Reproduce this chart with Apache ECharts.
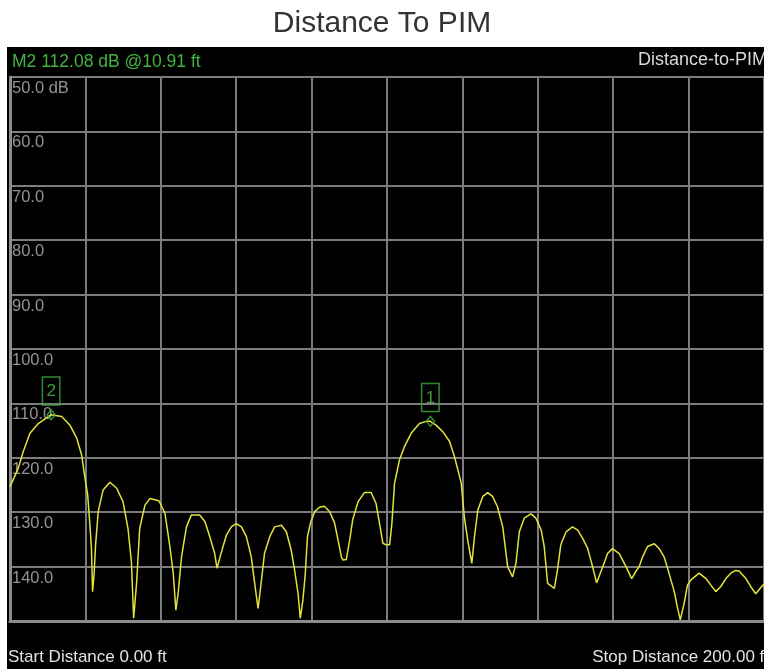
<!DOCTYPE html>
<html>
<head>
<meta charset="utf-8">
<title>Distance To PIM</title>
<script src="https://cdn.jsdelivr.net/npm/echarts@6/dist/echarts.min.js"></script>
<style>
  html, body { margin: 0; padding: 0; background: #ffffff; }
  #chart { width: 764px; height: 669px; }
</style>
</head>
<body>
<div id="chart"></div>
<script>
// Distance-to-PIM sweep: distance (ft) and PIM level (dB)
const distanceFt = [
  0, 2.2, 3.5, 5.3, 7.5, 10.91, 13.7, 15.9, 17.7, 19.0, 19.9, 20.6, 21.2, 21.6, 21.9, 22.3, 22.7, 23.4, 24.7, 26.5,
  28.3, 30.0, 31.3, 32.2, 32.8, 33.6, 34.4, 35.8, 37.1, 39.5, 41.1, 42.4, 43.3, 44.0, 44.6, 45.5, 46.8, 48.1, 50.3, 51.7,
  53.0, 54.3, 54.9, 56.1, 57.4, 58.7, 60.0, 61.4, 62.7, 64.0, 64.9, 65.8, 66.5, 67.5, 68.9, 70.2, 72.0, 73.3, 74.6, 75.5,
  76.4, 77.0, 77.7, 78.3, 78.9, 79.7, 80.8, 82.1, 83.4, 84.8, 86.1, 87.0, 87.9, 88.3, 89.2, 90.1, 90.9, 92.3, 94.0, 95.8,
  97.1, 98.0, 98.9, 99.8, 100.7, 101.3, 102.0, 103.3, 104.6, 106.4, 108.6, 110.4, 111.5, 113.0, 114.8, 116.6, 117.9, 118.9, 119.7, 120.5,
  121.4, 122.5, 123.2, 124.1, 125.4, 126.7, 128.0, 129.3, 130.7, 132.0, 133.3, 134.2, 135.1, 136.4, 138.2, 139.5, 140.9, 141.7, 142.6, 144.4,
  145.2, 146.1, 147.5, 149.2, 150.6, 151.9, 153.2, 154.3, 155.6, 157.4, 158.5, 159.8, 161.6, 163.4, 164.9, 166.0, 166.9, 167.8, 169.1, 170.9,
  172.2, 173.5, 174.8, 176.2, 177.0, 177.8, 178.8, 179.7, 180.7, 182.8, 184.6, 185.9, 187.2, 188.5, 189.9, 191.2, 192.5, 193.4, 195.2, 196.5,
  197.8, 199.1, 200
];
const levelDb = [
  125.3, 121.9, 118.9, 115.5, 113.7, 112.08, 112.4, 114.0, 116.4, 119.5, 123.8, 126.8, 132.4, 136.6, 144.6, 141.5, 136.0, 129.9, 125.9, 124.5,
  125.6, 128.1, 133.0, 139.1, 149.5, 142.8, 133.0, 128.7, 127.5, 127.9, 130.2, 136.3, 141.2, 148.0, 144.9, 138.2, 132.7, 130.5, 130.5, 131.7,
  134.5, 137.6, 140.3, 137.3, 134.2, 132.7, 132.1, 132.7, 134.5, 138.2, 143.1, 147.7, 143.7, 137.6, 134.5, 132.7, 132.4, 133.6, 137.0, 140.7,
  144.9, 149.5, 146.1, 141.5, 134.5, 132.0, 129.9, 129.1, 128.9, 129.9, 132.0, 135.1, 138.2, 138.8, 138.7, 135.1, 131.4, 128.1, 126.4, 126.4,
  128.4, 132.0, 135.7, 136.0, 136.0, 132.0, 124.7, 120.4, 118.0, 115.5, 113.7, 113.3, 113.3, 114.0, 115.2, 117.0, 119.8, 122.5, 124.7, 130.8,
  135.1, 139.4, 134.5, 129.6, 127.1, 126.4, 127.1, 129.0, 132.7, 140.0, 141.9, 139.4, 133.6, 131.1, 130.3, 131.1, 133.3, 136.3, 143.1, 144.0,
  140.7, 136.0, 133.6, 132.7, 133.3, 134.8, 136.6, 139.4, 143.0, 139.7, 137.6, 136.7, 137.6, 140.0, 142.2, 140.9, 140.0, 138.2, 136.3, 135.8,
  136.7, 138.2, 141.2, 144.6, 147.4, 149.8, 146.8, 143.4, 142.4, 141.2, 142.2, 143.4, 144.6, 143.7, 142.2, 141.2, 140.7, 140.8, 142.2, 143.7,
  145.0, 143.9, 143.2
];

// Markers
const markerNames = ['2', '1'];
const markerFt = [10.91, 111.5];
const markerDb = [112.08, 113.3];

// Vertical scale tick labels (top to bottom)
const yTickLabels = ['50.0 dB', '60.0', '70.0', '80.0', '90.0', '100.0', '110.0', '120.0', '130.0', '140.0', ''];

const titleText = 'Distance To PIM';
const modeText = 'Distance-to-PIM';
const startText = 'Start Distance 0.00 ft';
const stopText = 'Stop Distance 200.00 ft';

const activeMarker = 0;
const headerText = 'M' + markerNames[activeMarker] + ' ' + markerDb[activeMarker].toFixed(2) +
  ' dB @' + markerFt[activeMarker].toFixed(2) + ' ft';

const traceData = distanceFt.map((d, i) => [d, levelDb[i]]);
const markerData = markerFt.map((d, i) => ({ name: markerNames[i], value: [d, markerDb[i]] }));

const GRID_COLOR = '#7c7c7c';
const MARK_GREEN = '#3fae3f';
const uiFont = '"Liberation Sans", Arial, sans-serif';

const chart = echarts.init(document.getElementById('chart'), null, { renderer: 'canvas' });

chart.setOption({
  backgroundColor: '#ffffff',
  animation: false,
  title: {
    text: titleText,
    left: 'center',
    top: 4,
    textStyle: { fontFamily: uiFont, fontSize: 30, fontWeight: 'normal', color: '#333333' }
  },
  graphic: [
    { type: 'rect', z: -100, shape: { x: 7, y: 47, width: 770, height: 630 }, style: { fill: '#000000' } },
    { type: 'text', z: 50, x: 12, y: 62,
      style: { text: headerText, fill: '#44b244', font: '17.5px ' + uiFont, textVerticalAlign: 'middle' } },
    { type: 'text', z: 50, x: 767, y: 60,
      style: { text: modeText, fill: '#d9d9d9', font: '18px ' + uiFont, textAlign: 'right', textVerticalAlign: 'middle' } },
    { type: 'text', z: 50, x: 8, y: 657,
      style: { text: startText, fill: '#e2e2e2', font: '17px ' + uiFont, textVerticalAlign: 'middle' } },
    { type: 'text', z: 50, x: 769, y: 657,
      style: { text: stopText, fill: '#e2e2e2', font: '17px ' + uiFont, textAlign: 'right', textVerticalAlign: 'middle' } }
  ],
  grid: { left: 10, top: 77, width: 755, height: 544, containLabel: false },
  xAxis: {
    type: 'value',
    min: 0, max: 200, interval: 20,
    axisLine: { show: true, onZero: false, lineStyle: { color: '#8c8c8c', width: 3 } },
    axisTick: { show: false },
    axisLabel: { show: false },
    splitLine: { show: true, lineStyle: { color: GRID_COLOR, width: 2 } }
  },
  yAxis: {
    type: 'value',
    inverse: true,
    min: 50, max: 150, interval: 10,
    axisLine: { show: true, lineStyle: { color: '#8c8c8c', width: 3 } },
    axisTick: { show: false },
    axisLabel: {
      show: true, inside: true, margin: 2,
      verticalAlign: 'top', padding: [3, 0, 0, 0],
      color: '#939393', fontFamily: uiFont, fontSize: 16.5,
      formatter: (v) => yTickLabels[Math.round((v - 50) / 10)]
    },
    splitLine: { show: true, lineStyle: { color: GRID_COLOR, width: 2 } }
  },
  series: [
    {
      type: 'line',
      name: 'trace',
      data: traceData,
      showSymbol: false,
      symbol: 'none',
      lineStyle: { color: '#e3e33a', width: 1.5 },
      z: 5
    },
    {
      type: 'scatter',
      name: 'markers',
      data: markerData,
      symbol: 'diamond',
      symbolSize: [8, 10],
      itemStyle: { color: 'rgba(0,0,0,0)', borderColor: MARK_GREEN, borderWidth: 1.5 },
      label: {
        show: true,
        position: 'top',
        distance: 4,
        formatter: (p) => p.name,
        color: '#4cc04c',
        fontFamily: uiFont,
        fontSize: 17,
        borderColor: MARK_GREEN,
        borderWidth: 1.5,
        padding: [6, 4, 5, 4]
      },
      z: 6
    }
  ]
});
</script>
</body>
</html>
